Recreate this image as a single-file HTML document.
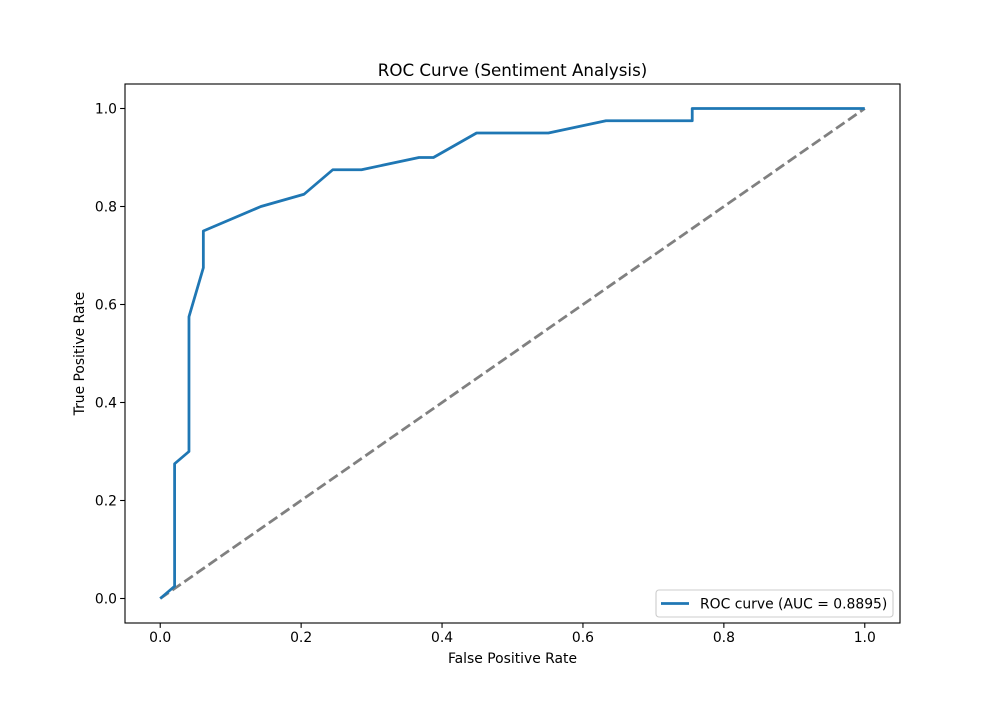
<!DOCTYPE html>
<html><head><meta charset="utf-8"><style>
body{margin:0;background:#fff}
svg text{font-family:"DejaVu Sans","Liberation Sans",sans-serif;fill:#000}
</style></head><body>
<svg id="c" width="1000" height="700"></svg>
<script>
const fprValues=[0,0.0204,0.0204,0.0408,0.0408,0.0612,0.0612,0.1429,0.2041,0.2449,0.2857,0.3673,0.3878,0.449,0.551,0.6327,0.7551,0.7551,1];
const tprValues=[0,0.025,0.275,0.3,0.575,0.675,0.75,0.8,0.825,0.875,0.875,0.9,0.9,0.95,0.95,0.975,0.975,1,1];
const xTicks=[0,0.2,0.4,0.6,0.8,1.0];
const yTicks=[0,0.2,0.4,0.6,0.8,1.0];
const L=125,R=900,T=84,B=623;
const X=v=>L+(v+0.05)/1.1*(R-L);
const Y=v=>B-(v+0.05)/1.1*(B-T);
const s=document.getElementById('c');const NS='http://www.w3.org/2000/svg';
function el(t,a,p){const e=document.createElementNS(NS,t);for(const k in a)e.setAttribute(k,a[k]);(p||s).appendChild(e);return e;}
let e;
xTicks.forEach(v=>{el('line',{x1:X(v),x2:X(v),y1:B,y2:B+4.9,stroke:'#000','stroke-width':1.1});
 e=el('text',{x:X(v),y:B+19,'font-size':13.9,'text-anchor':'middle'});e.textContent=v.toFixed(1);
 });
yTicks.forEach(v=>{el('line',{x1:L-4.9,x2:L,y1:Y(v),y2:Y(v),stroke:'#000','stroke-width':1.1});
 e=el('text',{x:L-8,y:Y(v)+5,'font-size':13.9,'text-anchor':'end'});e.textContent=v.toFixed(1);
 });
e=el('line',{x1:X(0),y1:Y(0),x2:X(1),y2:Y(1),stroke:'#808080','stroke-width':2.78,'stroke-dasharray':'10.3,4.4'});

e=el('polyline',{points:fprValues.map((f,i)=>X(f)+','+Y(tprValues[i])).join(' '),fill:'none',stroke:'#1f77b4','stroke-width':2.78,'stroke-linejoin':'round'});

e=el('rect',{x:L,y:T,width:R-L,height:B-T,fill:'none',stroke:'#000','stroke-width':1.1});

e=el('text',{x:(L+R)/2,y:T-8,'font-size':16.7,'text-anchor':'middle'});e.textContent='ROC Curve (Sentiment Analysis)';

e=el('text',{x:(L+R)/2,y:663,'font-size':13.9,'text-anchor':'middle'});e.textContent='False Positive Rate';

e=el('text',{x:84,y:(T+B)/2,'font-size':13.9,'text-anchor':'middle',transform:'rotate(-90 84 '+(T+B)/2+')'});e.textContent='True Positive Rate';

const g=el('g',{});
el('rect',{x:656,y:590,width:237,height:27,rx:3,fill:'#fff',stroke:'#ccc','stroke-width':1.1},g);
el('line',{x1:661,x2:689,y1:603.5,y2:603.5,stroke:'#1f77b4','stroke-width':2.78},g);
e=el('text',{x:700,y:608.5,'font-size':13.9},g);e.textContent='ROC curve (AUC = 0.8895)';

</script></body></html>
